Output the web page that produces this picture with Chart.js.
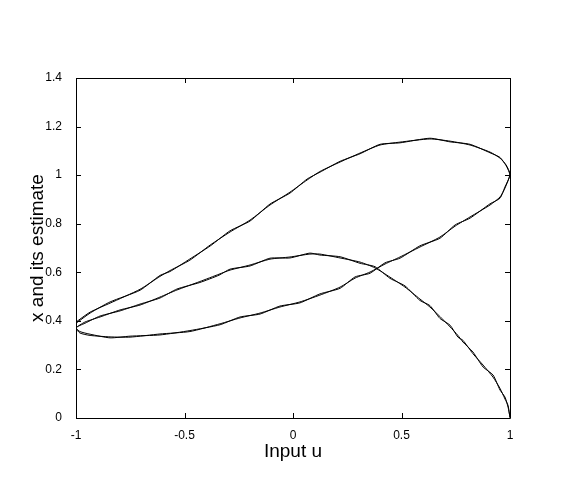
<!DOCTYPE html>
<html>
<head>
<meta charset="utf-8">
<script src="https://cdn.jsdelivr.net/npm/chart.js@4"></script>
<style>
  html, body { margin: 0; padding: 0; background: #fff; }
  #wrap { width: 568px; height: 492px; }
</style>
</head>
<body>
<div id="wrap"><canvas id="grafico" width="568" height="492"></canvas></div>
<script>
// entrada u (percurso: ramo superior, volta inferior, ramo do meio)
const entradaU = [
  -1.000, -0.935, -0.843, -0.705, -0.613, -0.567, -0.475, -0.382, -0.290, -0.198,
  -0.106, -0.014,  0.065,  0.124,  0.217,  0.309,  0.401,  0.493,  0.631,  0.724,
   0.816,  0.908,  0.954,  0.982,  1.000,
   0.977,  0.954,  0.908,  0.816,  0.747,  0.677,  0.585,  0.493,  0.424,  0.355,
   0.286,  0.217,  0.124,  0.032, -0.060, -0.152, -0.244, -0.336, -0.475, -0.613,
  -0.751, -0.843, -0.935, -0.982, -1.000,
  -0.959, -0.889, -0.797, -0.705, -0.613, -0.535, -0.429, -0.341, -0.290, -0.198,
  -0.106, -0.014,  0.078,  0.124,  0.217,  0.309,  0.378,  0.447,  0.516,  0.585,
   0.631,  0.677,  0.724,  0.760,  0.783,  0.829,  0.876,  0.922,  0.954,  0.977,
   0.991,  1.000
];

// estado x verdadeiro
const estadoX = [
  0.395, 0.436, 0.473, 0.530, 0.583, 0.607, 0.650, 0.712, 0.766, 0.815,
  0.877, 0.930, 0.980, 1.015, 1.054, 1.091, 1.124, 1.136, 1.149, 1.140,
  1.124, 1.095, 1.070, 1.042, 1.005,
  0.947, 0.910, 0.877, 0.828, 0.790, 0.745, 0.704, 0.663, 0.634, 0.601,
  0.576, 0.539, 0.506, 0.478, 0.457, 0.432, 0.412, 0.388, 0.356, 0.346,
  0.333, 0.334, 0.340, 0.350, 0.370,
  0.395, 0.416, 0.445, 0.465, 0.498, 0.527, 0.562, 0.592, 0.609, 0.630,
  0.654, 0.663, 0.675, 0.675, 0.659, 0.642, 0.618, 0.580, 0.539, 0.490,
  0.457, 0.418, 0.375, 0.340, 0.313, 0.272, 0.210, 0.177, 0.115, 0.086,
  0.045, 0.004
];

// estimativa de x
const estimativaX = [
  0.390, 0.432, 0.478, 0.526, 0.587, 0.603, 0.655, 0.708, 0.771, 0.811,
  0.881, 0.926, 0.984, 1.012, 1.057, 1.088, 1.127, 1.133, 1.152, 1.137,
  1.127, 1.092, 1.073, 1.039, 1.000,
  0.952, 0.905, 0.882, 0.823, 0.795, 0.740, 0.709, 0.658, 0.639, 0.596,
  0.581, 0.534, 0.511, 0.474, 0.461, 0.428, 0.416, 0.384, 0.360, 0.342,
  0.337, 0.330, 0.345, 0.356, 0.372,
  0.390, 0.420, 0.441, 0.469, 0.494, 0.531, 0.558, 0.588, 0.613, 0.626,
  0.658, 0.659, 0.679, 0.671, 0.664, 0.637, 0.623, 0.575, 0.544, 0.484,
  0.463, 0.410, 0.382, 0.333, 0.320, 0.265, 0.218, 0.168, 0.122, 0.078,
  0.052, 0.000
];

const ticksU = [-1, -0.5, 0, 0.5, 1];
const ticksX = [0, 0.2, 0.4, 0.6, 0.8, 1, 1.2, 1.4];

const fonteEixo = { family: "'Liberation Sans', Arial, sans-serif", size: 12 };
const fonteTitulo = { family: "'Liberation Sans', Arial, sans-serif", size: 19 };

// caixa e marcas internas estilo MATLAB
const caixaPlugin = {
  id: "caixa",
  afterDraw(chart) {
    const { ctx, chartArea: a, scales } = chart;
    ctx.save();
    ctx.strokeStyle = "#000";
    ctx.lineWidth = 1;
    ctx.beginPath();
    ctx.rect(Math.round(a.left) + 0.5, Math.round(a.top) + 0.5,
             Math.round(a.right - a.left), Math.round(a.bottom - a.top));
    const t = 5;
    ticksU.forEach(v => {
      const px = Math.round(scales.x.getPixelForValue(v)) + 0.5;
      ctx.moveTo(px, a.bottom); ctx.lineTo(px, a.bottom - t);
      ctx.moveTo(px, a.top); ctx.lineTo(px, a.top + t);
    });
    ticksX.forEach(v => {
      const py = Math.round(scales.y.getPixelForValue(v)) + 0.5;
      ctx.moveTo(a.left, py); ctx.lineTo(a.left + t, py);
      ctx.moveTo(a.right, py); ctx.lineTo(a.right - t, py);
    });
    ctx.stroke();
    ctx.restore();
  }
};

const pontos = ys => entradaU.map((u, i) => ({ x: u, y: ys[i] }));

new Chart(document.getElementById("grafico").getContext("2d"), {
  type: "scatter",
  data: {
    datasets: [
      { label: "x", data: pontos(estadoX) },
      { label: "estimativa", data: pontos(estimativaX) }
    ].map(d => Object.assign(d, {
      showLine: true,
      borderColor: "#000",
      borderWidth: 1,
      pointRadius: 0,
      tension: 0.2,
      fill: false
    }))
  },
  options: {
    responsive: false,
    animation: false,
    layout: { padding: { top: 78, right: 58, left: 22, bottom: 25 } },
    plugins: { legend: { display: false }, tooltip: { enabled: false } },
    scales: {
      x: {
        type: "linear",
        min: -1, max: 1,
        afterBuildTicks: s => { s.ticks = ticksU.map(v => ({ value: v })); },
        afterFit: s => { s.height = 49; },
        grid: { display: false },
        border: { display: false },
        ticks: { color: "#000", font: fonteEixo, padding: 2, maxRotation: 0, callback: v => String(v) },
        title: { display: true, text: "Input u", color: "#000", font: fonteTitulo, padding: { top: 0 } }
      },
      y: {
        min: 0, max: 1.4,
        afterBuildTicks: s => { s.ticks = ticksX.map(v => ({ value: v })); },
        afterFit: s => { s.width = 54; },
        grid: { display: false },
        border: { display: false },
        ticks: { color: "#000", font: fonteEixo, padding: 6, callback: v => String(v) },
        title: { display: true, text: "x and its estimate", color: "#000", font: fonteTitulo, padding: { bottom: 0 } }
      }
    }
  },
  plugins: [caixaPlugin]
});
</script>
</body>
</html>
